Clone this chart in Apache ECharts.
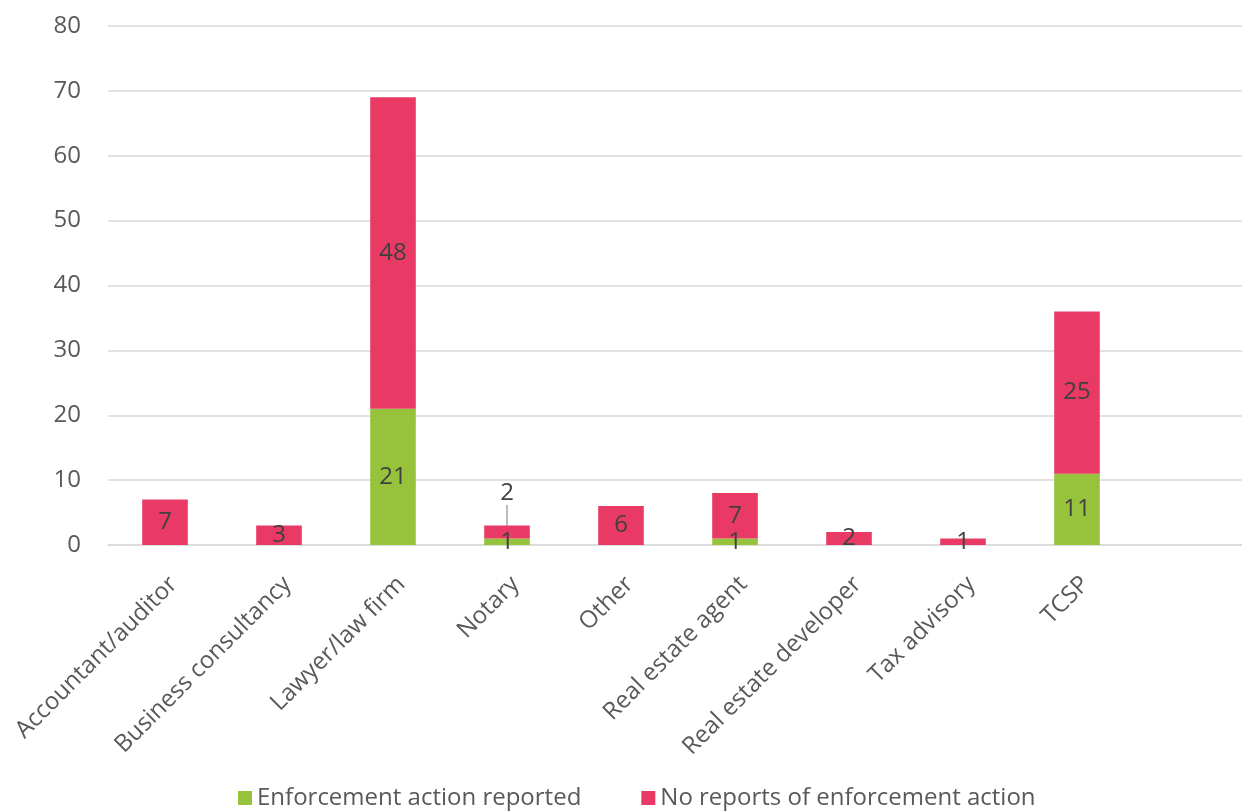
<!DOCTYPE html>
<html>
<head>
<meta charset="utf-8">
<script src="https://cdn.jsdelivr.net/npm/echarts@6/dist/echarts.min.js"></script>
<style>
  html, body { margin: 0; padding: 0; background: #ffffff; overflow: hidden; }
  #chart { width: 1248px; height: 811px; }
</style>
</head>
<body>
<div id="chart"></div>
<script>
// Obliged entity types (the trailing empty slot keeps spacing on the right)
const categories = ['Accountant/auditor', 'Business consultancy', 'Lawyer/law firm', 'Notary', 'Other',
  'Real estate agent', 'Real estate developer', 'Tax advisory', 'TCSP', ''];
const enforcementReported = [0, 0, 21, 1, 0, 1, 0, 0, 11, null];
const noEnforcement = [7, 3, 48, 2, 6, 7, 2, 1, 25, null];
const yTicks = { min: 0, max: 80, interval: 10 };

const FONT = '"Open Sans", "Noto Sans", sans-serif';
const GREEN = '#97c23c';
const PINK = '#e83a64';
const LABEL = '#404040';
const SIZE = 24;

const chart = echarts.init(document.getElementById('chart'), null, { renderer: 'canvas' });

chart.setOption({
  animation: false,
  textStyle: { fontFamily: FONT },
  grid: { left: 108, right: 0, top: 26, bottom: 266, containLabel: false },
  legend: {
    bottom: -4,
    left: 233,
    itemWidth: 14,
    itemHeight: 14,
    itemGap: 60,
    icon: 'rect',
    textStyle: { fontFamily: FONT, fontSize: SIZE, color: '#595959' },
    data: ['Enforcement action reported', 'No reports of enforcement action']
  },
  xAxis: {
    type: 'category',
    data: categories,
    axisLine: { lineStyle: { color: '#d9d9d9', width: 1.5 } },
    axisTick: { show: false },
    axisLabel: {
      interval: 0,
      rotate: 45,
      margin: 27,
      verticalAlign: 'top',
      fontFamily: FONT,
      fontSize: SIZE,
      color: '#595959'
    }
  },
  yAxis: {
    type: 'value',
    min: yTicks.min,
    max: yTicks.max,
    interval: yTicks.interval,
    axisLine: { show: false },
    axisTick: { show: false },
    splitLine: { lineStyle: { color: '#d9d9d9', width: 1.5 } },
    axisLabel: { margin: 27, fontFamily: FONT, fontSize: SIZE, color: '#595959' }
  },
  series: [
    {
      name: 'Enforcement action reported',
      type: 'bar',
      stack: 'total',
      barWidth: '40%',
      itemStyle: { color: GREEN },
      label: {
        show: true,
        position: 'inside',
        fontFamily: FONT,
        fontSize: SIZE,
        color: LABEL,
        formatter: p => (p.value ? p.value : '')
      },
      data: enforcementReported
    },
    {
      name: 'No reports of enforcement action',
      type: 'bar',
      stack: 'total',
      barWidth: '40%',
      itemStyle: { color: PINK },
      label: {
        show: true,
        position: 'inside',
        fontFamily: FONT,
        fontSize: SIZE,
        color: LABEL,
        formatter: p => (p.value ? p.value : '')
      },
      labelLine: { show: true, lineStyle: { color: '#a6a6a6', width: 1.5 } },
      // the Notary label is lifted above its short bar, joined by a leader line
      labelLayout: p => (p.dataIndex === 3 ? { dy: -39 } : {}),
      data: noEnforcement
    }
  ]
});
</script>
</body>
</html>
